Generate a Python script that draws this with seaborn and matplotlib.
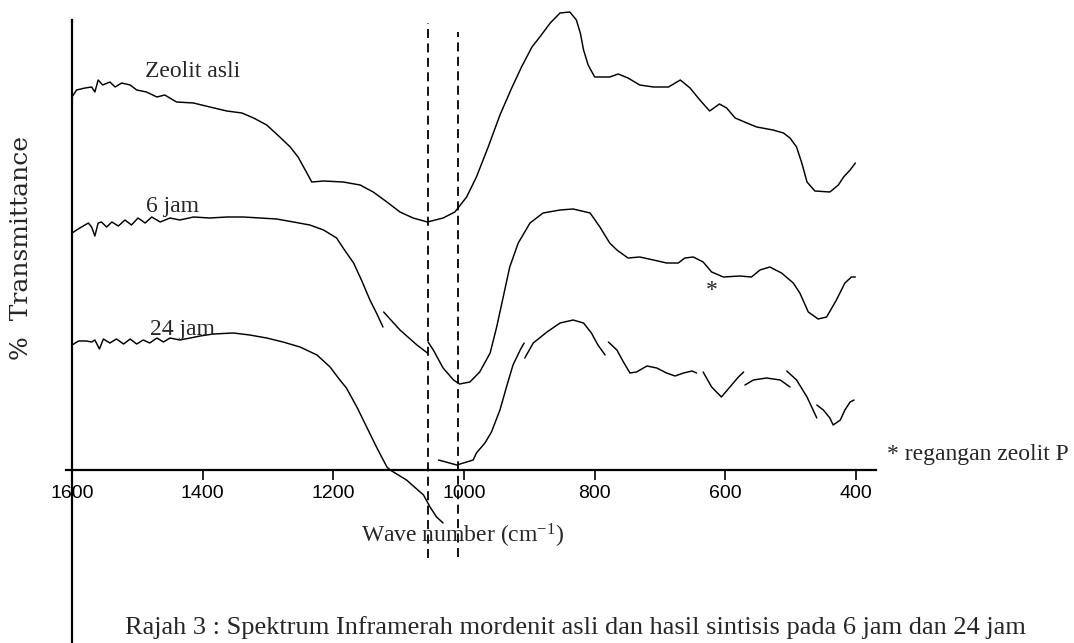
import numpy as np
import pandas as pd
import seaborn as sns
import matplotlib
matplotlib.use("Agg")
import matplotlib.pyplot as plt

# ---------------- data (wave number, cm-1 ; relative transmittance) ----------------
asli_wn = [1600, 1593, 1580, 1570, 1565, 1560, 1553, 1542, 1534, 1524, 1511, 1501, 1486, 1470,
           1458, 1440, 1414, 1389, 1363, 1340, 1322, 1302, 1282, 1266, 1254, 1243, 1233, 1215,
           1185, 1159, 1139, 1118, 1098, 1078, 1056, 1032, 1014, 996, 981, 963, 945, 927, 912,
           896, 884, 868, 853, 838, 828, 822, 817, 810, 800, 777, 764, 749, 731, 710, 687, 669,
           654, 639, 624, 609, 598, 585, 567, 552, 527, 511, 501, 491, 483, 475, 463, 440, 427,
           419, 409, 401]
asli_t = [373, 380, 382, 383, 378, 390, 385, 388, 383, 387, 385, 380, 378, 373,
          375, 368, 367, 363, 359, 357, 352, 345, 333, 323, 313, 300, 288, 289,
          288, 285, 278, 268, 258, 252, 248, 252, 258, 273, 293, 323, 355, 382, 403,
          423, 433, 447, 457, 458, 450, 437, 420, 405, 393, 393, 396, 392, 385, 383, 383, 390,
          382, 370, 359, 366, 362, 352, 347, 343, 340, 337, 332, 323, 307, 288, 279, 278, 285,
          293, 300, 307]

jam6_wn = [1600, 1588, 1575, 1570, 1565, 1560, 1555, 1547, 1539, 1529, 1519, 1509, 1499, 1488,
           1478, 1465, 1450, 1435, 1414, 1389, 1363, 1338, 1312, 1287, 1261, 1236, 1215, 1195,
           1185, 1169, 1157, 1144, 1134, 1124,
           1123, 1098, 1072, 1056,
           1055, 1047, 1032, 1016, 1007, 991, 976, 960, 950, 940, 930, 917, 899, 879, 853, 833,
           807, 792, 777, 766, 749, 731, 710, 690, 672, 662, 649, 634, 621, 603, 578, 560, 547,
           532, 514, 496, 486, 473, 458, 445, 430, 417, 407, 401]
jam6_t = [237, 242, 247, 243, 234, 247, 248, 243, 248, 244, 250, 245, 252, 247,
          253, 248, 252, 250, 253, 252, 253, 253, 252, 251, 248, 245, 240, 232,
          222, 207, 190, 170, 157, 143,
          158, 140, 125, 117,
          128, 120, 102, 90, 86, 88, 98, 117, 143, 173, 203, 227, 247, 257, 260, 261,
          257, 243, 227, 220, 212, 213, 210, 207, 207, 212, 213, 208, 198, 193, 194, 193, 200,
          203, 197, 187, 177, 158, 151, 153, 170, 187, 193, 193]
jam6_seg = [0] * 34 + [1] * 4 + [2] * 44

jam24_wn = [1600, 1590, 1578, 1570, 1565, 1558, 1552, 1542, 1532, 1521, 1511, 1501, 1491, 1481,
            1470, 1460, 1450, 1435, 1419, 1404, 1384, 1353, 1328, 1302, 1277, 1251, 1225, 1205,
            1190, 1180, 1164, 1149, 1134, 1118, 1113, 1088, 1062, 1052, 1042, 1032,
            1039, 1011, 996, 986, 981, 968, 958, 945, 935, 925, 914, 908,
            907, 894, 873, 853, 833, 817, 805, 795, 784,
            779, 766, 756, 746, 736, 720, 705, 690, 677, 664, 651, 644,
            634, 621, 606, 593, 580, 572,
            570, 557, 537, 516, 501,
            506, 491, 475, 460,
            460, 450, 440, 435, 424, 417, 409, 403]
jam24_t = [125, 129, 129, 128, 130, 121, 131, 127, 131, 126, 131, 126, 130, 127,
           132, 128, 132, 130, 132, 134, 136, 137, 135, 132, 128, 123, 115, 103,
           90, 82, 63, 43, 23, 3, 0, -10, -25, -37, -47, -53,
           10, 5, 8, 10, 17, 27, 38, 60, 83, 105, 120, 127,
           112, 127, 138, 147, 150, 147, 137, 125, 115,
           128, 120, 108, 97, 98, 104, 102, 97, 94, 97, 99, 97,
           98, 83, 73, 83, 93, 98,
           85, 90, 92, 90, 83,
           99, 90, 73, 52,
           65, 60, 52, 45, 50, 60, 68, 70]
jam24_seg = [0] * 40 + [1] * 12 + [2] * 9 + [3] * 12 + [4] * 6 + [5] * 5 + [6] * 4 + [7] * 8

x_ticks = [1600, 1400, 1200, 1000, 800, 600, 400]
marker_lines = [1055, 1009]

# ---------------- style ----------------
sns.set_theme(style="white")
SERIF = ["Liberation Serif", "DejaVu Serif"]
plt.rcParams["font.family"] = ["Liberation Sans", "DejaVu Sans"]
plt.rcParams["mathtext.fontset"] = "custom"
plt.rcParams["mathtext.rm"] = "Liberation Serif"
plt.rcParams["mathtext.it"] = "Liberation Serif:italic"

W, H = 1074, 643
fig = plt.figure(figsize=(W / 100, H / 100), dpi=100)
fig.patch.set_facecolor("white")
ax = fig.add_axes([66 / W, 0, 810 / W, 1])
ax.set_facecolor("white")

frames = [
    pd.DataFrame({"wn": asli_wn, "t": asli_t, "seg": 0}),
    pd.DataFrame({"wn": jam6_wn, "t": jam6_t, "seg": jam6_seg}),
    pd.DataFrame({"wn": jam24_wn, "t": jam24_t, "seg": jam24_seg}),
]
for df in frames:
    sns.lineplot(data=df, x="wn", y="t", units="seg", estimator=None, sort=False,
                 color="black", linewidth=1.05, ax=ax, legend=False)

ax.vlines(marker_lines, ymin=[-88, -87], ymax=[447, 438], colors="black",
          linestyles=(0, (5, 3)), linewidth=1.3)

ax.set_xlim(1609.2, 369.4)
ax.set_ylim(-173, 470)
ax.set_xlabel("")
ax.set_ylabel("")
ax.set_yticks([])
ax.set_xticks(x_ticks)
ax.set_xticklabels([str(v) for v in x_ticks])
ax.tick_params(axis="x", direction="out", length=7, width=1.2, labelsize=14,
               pad=4, colors="black", bottom=True)

for s in ["top", "right"]:
    ax.spines[s].set_visible(False)
ax.spines["left"].set_position(("data", 1600))
ax.spines["left"].set_bounds(-173, 450)
ax.spines["bottom"].set_position(("data", 0))
for s in ["left", "bottom"]:
    ax.spines[s].set_color("black")
    ax.spines[s].set_linewidth(1.6)

# curve labels
ax.text(1488, 393, "Zeolit asli", fontsize=17, va="baseline", ha="left", family=SERIF)
ax.text(1487, 258, "6 jam", fontsize=17, va="baseline", ha="left", family=SERIF)
ax.text(1480, 135, "24 jam", fontsize=17, va="baseline", ha="left", family=SERIF)
ax.text(621, 180, "*", fontsize=17, va="center", ha="center", family=SERIF)
ax.text(1002, -73, "Wave number (cm$^{-1}$)", fontsize=17, va="baseline", ha="center",
        family=SERIF)

fig.text(22 / W, 1 - 248 / H, "%  Transmittance", rotation=90, fontsize=18,
         family="DejaVu Serif", ha="center", va="center")
fig.text(887 / W, 1 - 460 / H, "* regangan zeolit P", fontsize=17, ha="left", va="baseline",
         family=SERIF)
fig.text(575 / W, 1 - 634 / H,
         "Rajah 3 : Spektrum Inframerah mordenit asli dan hasil sintisis pada 6 jam dan 24 jam",
         fontsize=19, ha="center", va="baseline", family=SERIF)

fig.savefig("out.png", dpi=100, facecolor="white")
